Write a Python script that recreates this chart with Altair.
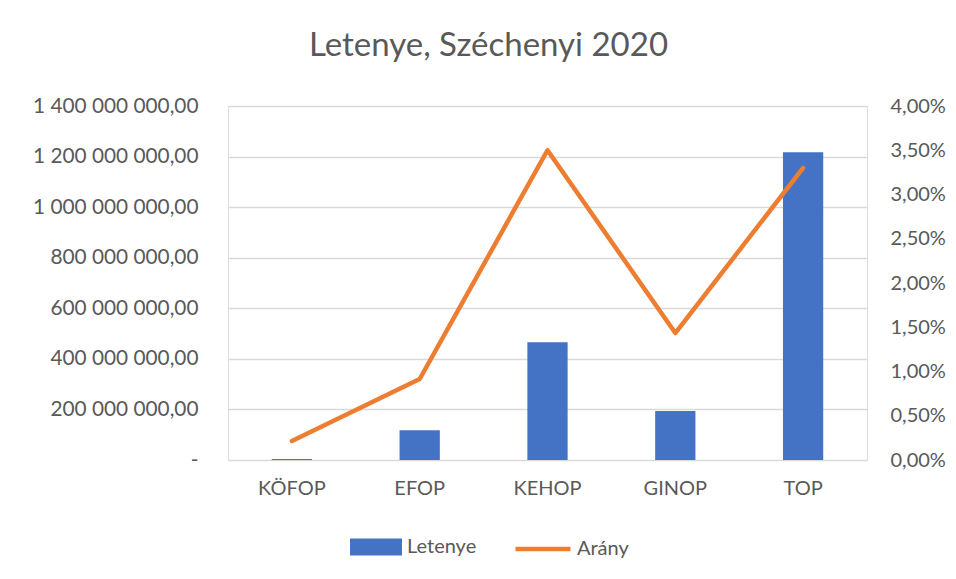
import altair as alt
import pandas as pd

categories = ["KÖFOP", "EFOP", "KEHOP", "GINOP", "TOP"]
letenye = [4_000_000, 118_000_000, 466_000_000, 194_000_000, 1_217_000_000]
arany = [0.00215, 0.00915, 0.0350, 0.01435, 0.0330]

df = pd.DataFrame({"Kategória": categories, "Letenye": letenye, "Arány": arany})

FONT = "Lato"
GREY = "#595959"

x_enc = alt.X(
    "Kategória:N",
    sort=categories,
    scale=alt.Scale(paddingInner=0.685, paddingOuter=0.3425),
    axis=alt.Axis(title=None, labelAngle=0, domain=False, ticks=False,
                  labelPadding=18, labelFontSize=20, labelColor=GREY, labelFont=FONT),
)

bars = alt.Chart(df).mark_bar(color="#4472C4").encode(
    x=x_enc,
    y=alt.Y(
        "Letenye:Q",
        scale=alt.Scale(domain=[0, 1_400_000_000], nice=False),
        axis=alt.Axis(title=None, values=[0, 200e6, 400e6, 600e6, 800e6, 1000e6, 1200e6, 1400e6],
                      format=",.2f", labelExpr="datum.value == 0 ? '-' : datum.label",
                      domain=False, ticks=False, grid=True, gridColor="#D9D9D9", gridWidth=1.3,
                      labelPadding=30, labelFontSize=20.8, labelColor=GREY, labelFont=FONT),
    ),
    fill=alt.Fill("s:N", scale=alt.Scale(domain=["Letenye"], range=["#4472C4"]),
                  legend=alt.Legend(title=None, orient="none", legendX=138, legendY=431,
                                    symbolType="M-2.6,-0.85H2.6V0.85H-2.6Z", symbolSize=400,
                                    symbolStrokeWidth=0, labelOffset=21, padding=0,
                                    labelFontSize=20, labelColor=GREY, labelFont=FONT)),
).transform_calculate(s="'Letenye'")

line = alt.Chart(df).mark_line(strokeWidth=4.5, strokeCap="round", strokeJoin="round").encode(
    x=x_enc,
    y=alt.Y(
        "Arány:Q",
        scale=alt.Scale(domain=[0, 0.04], nice=False),
        axis=alt.Axis(title=None, orient="right", values=[0, 0.005, 0.01, 0.015, 0.02, 0.025, 0.03, 0.035, 0.04],
                      format=".2%", domain=False, ticks=False, grid=False,
                      labelPadding=23, labelFontSize=20, labelColor=GREY, labelFont=FONT),
    ),
    stroke=alt.Stroke("t:N", scale=alt.Scale(domain=["Arány"], range=["#ED7D31"]),
                      legend=alt.Legend(title=None, orient="none", legendX=285, legendY=413,
                                        symbolType="stroke", symbolSize=3025, symbolStrokeWidth=4.5,
                                        labelOffset=4, padding=0,
                                        labelFontSize=20, labelColor=GREY, labelFont=FONT)),
).transform_calculate(t="'Arány'")

chart = alt.layer(bars, line).resolve_scale(y="independent").properties(
    width=639,
    height=354,
    autosize=alt.AutoSizeParams(type="none"),
    padding={"left": 220, "top": 98, "right": 81, "bottom": 111},
    title=alt.TitleParams("Letenye, Széchenyi 2020", font=FONT, fontSize=33, fontWeight="normal",
                          color=GREY, anchor="middle", dx=-59, offset=32),
).configure_view(stroke=None).configure(background="white")

chart.save("out.html", embed_options={
    "renderer": "svg", "actions": False,
    "formatLocale": {"decimal": ",", "thousands": " ", "grouping": [3], "currency": ["", ""], "percent": "%"},
})
